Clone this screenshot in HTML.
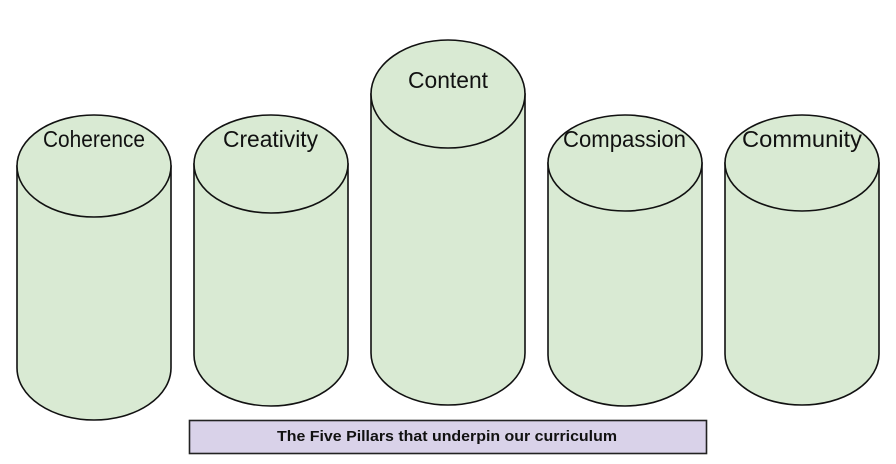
<!DOCTYPE html>
<html><head><meta charset="utf-8"><style>
html,body{margin:0;padding:0;background:#fff;}
svg{display:block;}
</style></head><body>
<svg width="896" height="464" viewBox="0 0 896 464" xmlns="http://www.w3.org/2000/svg">
<g fill="#d9ead3" stroke="#111" stroke-width="1.6">
 <!-- Coherence -->
 <path d="M17,166 L17,368 A77,52 0 0 0 171,368 L171,166 Z"/>
 <ellipse cx="94" cy="166" rx="77" ry="51"/>
 <!-- Creativity -->
 <path d="M194,164 L194,355 A77,51 0 0 0 348,355 L348,164 Z"/>
 <ellipse cx="271" cy="164" rx="77" ry="49"/>
 <!-- Content -->
 <path d="M371,94 L371,353 A77,52 0 0 0 525,353 L525,94 Z"/>
 <ellipse cx="448" cy="94" rx="77" ry="54"/>
 <!-- Compassion -->
 <path d="M548,163 L548,355 A77,51 0 0 0 702,355 L702,163 Z"/>
 <ellipse cx="625" cy="163" rx="77" ry="48"/>
 <!-- Community -->
 <path d="M725,163 L725,354 A77,51 0 0 0 879,354 L879,163 Z"/>
 <ellipse cx="802" cy="163" rx="77" ry="48"/>
</g>
<g font-family="'Comic Sans MS','Liberation Sans',sans-serif" font-size="23" fill="#111">
 <text x="43" y="147" textLength="102" lengthAdjust="spacingAndGlyphs">Coherence</text>
 <text x="223" y="147" textLength="95" lengthAdjust="spacingAndGlyphs">Creativity</text>
 <text x="408" y="88" textLength="80" lengthAdjust="spacingAndGlyphs">Content</text>
 <text x="563" y="147" textLength="123" lengthAdjust="spacingAndGlyphs">Compassion</text>
 <text x="742" y="147" textLength="120" lengthAdjust="spacingAndGlyphs">Community</text>
</g>
<rect x="189.5" y="420.5" width="517" height="33" fill="#d9d2e9" stroke="#222" stroke-width="1.6"/>
<text x="277" y="441" font-family="'Liberation Sans',sans-serif" font-weight="bold" font-size="15" fill="#111" textLength="340" lengthAdjust="spacingAndGlyphs">The Five Pillars that underpin our curriculum</text>
</svg>
</body></html>
